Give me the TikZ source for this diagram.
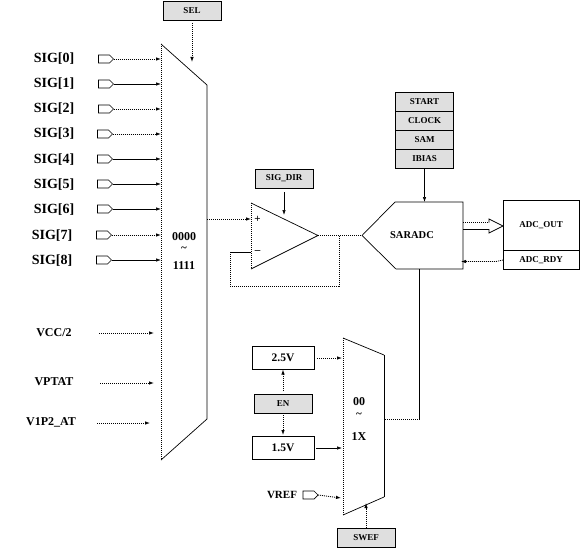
\documentclass[tikz,border=0pt]{standalone}
\usepackage{fontspec}
\setmainfont{Liberation Serif}
\usetikzlibrary{arrows.meta,shapes.symbols}
\newcommand{\tf}[1]{\fontsize{#1}{#1}\selectfont\bfseries}
\tikzset{
  x=1pt,y=-1pt,
  every node/.style={inner sep=0pt,outer sep=0pt},
  line/.style={line width=0.7pt,black},
  dot/.style={line width=0.8pt,black,dash pattern=on 1pt off 1pt},
  tip/.style={-{Latex[length=5pt,width=3.5pt]}},
  shape box/.style={draw=black,line width=0.8pt},
  gbox/.style={shape box,fill=gray!25,minimum width=58pt,minimum height=19pt,font=\tf{9}},
  wbox/.style={shape box,fill=white,minimum width=62pt,minimum height=23pt,font=\tf{11.5}},
  pinshape/.style={draw=black,line width=0.7pt,fill=white,signal,signal to=east,minimum width=15pt,minimum height=8pt},
  siglabel/.style={font=\tf{14}},
  vlabel/.style={font=\tf{12}},
  muxtext/.style={font=\tf{12}},
  tildetext/.style={font=\tf{11}},
}
\begin{document}
\begin{tikzpicture}
\useasboundingbox (0,0) rectangle (580,548);
% coordinates
\coordinate (muxL) at (161,0);
\coordinate (muxR) at (207,219);
\coordinate (opM) at (251,252);
\coordinate (opP) at (251,219);
\coordinate (opOut) at (318,235.5);
\coordinate (adcIn) at (362,235.5);
\coordinate (fb1) at (230,252);
\coordinate (fb2) at (230,286);
\coordinate (fb3) at (339,286);
\coordinate (fb4) at (339,235.5);
% mux 1
\draw[line] (207,85) -- (207,419) -- (161,460);
\draw[line] (161,44) -- (207,85);
\draw[dot] (161,44) -- (161,460);
% labels mux1
\node[muxtext] (m0) at (184,237) {0000};
\node[tildetext] (mt) at (184,249) {\textasciitilde};
\node[muxtext] (m1) at (184,266) {1111};
% SEL
\node[gbox] (sel) at (192,11) {SEL};
\draw[dot,tip] (192,23) -- (192,62);
% signals
\foreach \i/\y/\ly/\lx/\px/\sty in {0/59/59/54/104/dot,1/84/84/54/104/line,2/109/109/54/104/dot,3/134/134/54/103/dot,4/159/160/54/103/line,5/184/185/54/103/line,6/209/210/54/103/line,7/235/236/52/102/dot,8/260/261/52/102/line}{
  \node[siglabel] (s\i) at (\lx,\ly) {SIG[\i]};
  \node[pinshape] (p\i) at (\px,\y) {};
  \draw[\sty,tip] (p\i.east) -- (p\i.east -| muxL);
}
% analog inputs
\node[vlabel] (vcc) at (54,333) {VCC/2};
\node[vlabel] (vptat) at (54,382) {VPTAT};
\node[vlabel] (v1p2) at (51,422) {V1P2\_AT};
\coordinate (vccS) at (99,333); \coordinate (vccE) at (154,333);
\coordinate (vpS) at (100,383); \coordinate (vpE) at (154,383);
\coordinate (v1S) at (97,423); \coordinate (v1E) at (150,423);
\draw[dot,tip] (vccS) -- (vccE);
\draw[dot,tip] (vpS) -- (vpE);
\draw[dot,tip] (v1S) -- (v1E);
% opamp
\draw[line,fill=white] (251,203) -- (318,235.5) -- (251,269);
\draw[dot] (251,203) -- (251,269);
\node[font=\tf{11}] (plus) at (257.5,219) {+};
\node[font=\tf{11}] (minus) at (257.5,252) {--};
\draw[dot,tip] (muxR) -- (opP);
\draw[dot] (fb4) -- (fb3);
\draw[dot] (fb3) -- (fb2) -- (fb1);
\draw[line] (fb1) -- (opM);
\draw[dot] (opOut) -- (adcIn);
\node[gbox] (sigdir) at (284,178.5) {SIG\_DIR};
\draw[line,tip] (284,192) -- (284,215);
% SARADC
\draw[line,fill=white] (362,235.5) -- (395,202) -- (463,202) -- (463,269) -- (396,269) -- cycle;
\node[font=\tf{10.5}] (sar) at (412,235) {SARADC};
% control stack
\node[gbox] (start) at (424.5,101.5) {START};
\node[gbox] (clock) at (424.5,120.5) {CLOCK};
\node[gbox] (sam) at (424.5,139.5) {SAM};
\node[gbox] (ibias) at (424.5,159) {IBIAS};
\draw[line,tip] (ibias.south) -- (424.5,202);
% ADC out
\node[shape box,fill=white,minimum width=76pt,minimum height=50pt,font=\tf{9}] (out) at (541,225.5) {ADC\_OUT};
\node[shape box,fill=white,minimum width=76pt,minimum height=19pt,font=\tf{9}] (rdy) at (541,260) {ADC\_RDY};
\draw[dot] (463,222.5) -- (489,222.5);
\draw[line] (463,229) -- (489,229);
\draw[line] (489,222.5) -- (489,219) -- (503,226) -- (489,233) -- (489,229);
\draw[dot,tip] (rdy.west) -- (496,261.5) -- (461,261.5);
% SARADC to mux2
\coordinate (c1) at (419.5,269); \coordinate (c2) at (419.5,419); \coordinate (c3) at (384,419);
\draw[line] (c1) -- (c2);
\draw[dot] (c2) -- (c3);
% mux 2
\draw[line] (343,338) -- (384,355);
\draw[line,line width=1pt] (384,355) -- (384,497);
\draw[line] (384,497) -- (343,515);
\draw[dot] (343,338) -- (343,515);
\node[muxtext] (n0) at (359,402) {00};
\node[tildetext] (nt) at (359,415) {\textasciitilde};
\node[muxtext] (n1) at (359,437) {1X};
% voltages
\node[wbox] (v25) at (283,358) {2.5V};
\node[gbox] (en) at (283,404) {EN};
\node[wbox] (v15) at (283,448) {1.5V};
\draw[dot,tip] (317,358) -- (342,358);
\draw[line,tip] (316,448) -- (342,448);
\draw[dot,tip] (283,391) -- (v25.south);
\draw[dot,tip] (283,413) -- (283,435);
\node[font=\tf{11}] (vref) at (282,495) {VREF};
\node[pinshape] (pv) at (308.5,495) {};
\draw[dot,tip] (pv.east) -- (341,498);
\node[gbox] (swef) at (366,537.5) {SWEF};
\draw[dot,tip] (swef.north) -- (366,503);
\end{tikzpicture}
\end{document}
